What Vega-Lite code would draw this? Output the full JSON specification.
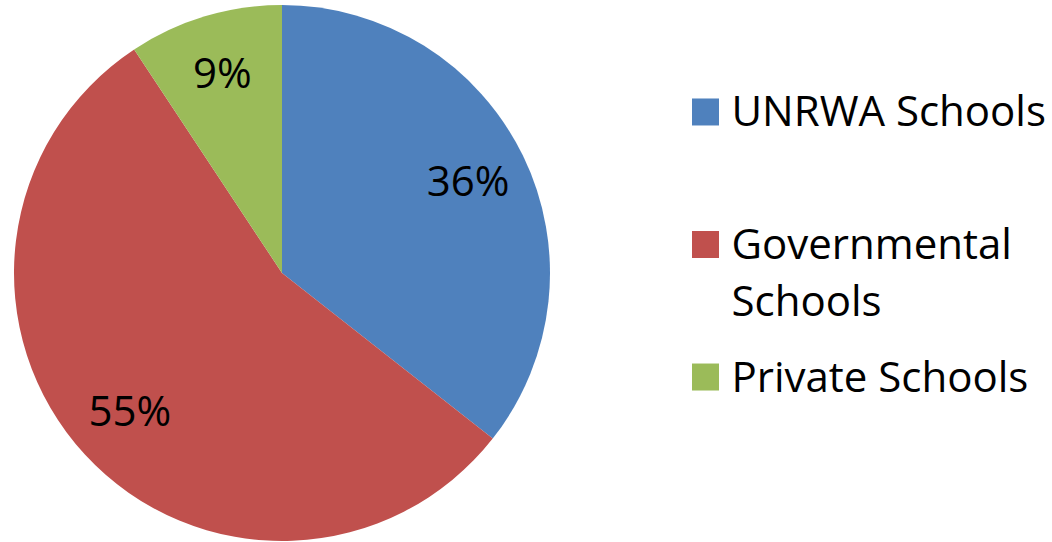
{
  "$schema": "https://vega.github.io/schema/vega-lite/v6.json",
  "padding": 0,
  "background": "white",
  "config": {"view": {"stroke": null}, "font": "Open Sans"},
  "data": {"values": [
    {"school": "UNRWA Schools", "legendLabel": "UNRWA Schools", "share": 0.356, "rank": 1},
    {"school": "Governmental Schools", "legendLabel": "Governmental\nSchools", "share": 0.551, "rank": 2},
    {"school": "Private Schools", "legendLabel": "Private Schools", "share": 0.093, "rank": 3}
  ]},
  "spacing": 128,
  "hconcat": [
    {
      "width": 564,
      "height": 546,
      "encoding": {
        "theta": {"field": "share", "type": "quantitative", "stack": true},
        "order": {"field": "rank", "type": "quantitative"}
      },
      "layer": [
        {
          "mark": {"type": "arc", "outerRadius": 268},
          "encoding": {
            "color": {"field": "school", "type": "nominal",
              "scale": {"domain": ["UNRWA Schools", "Governmental Schools", "Private Schools"], "range": ["#4F81BD", "#C0504D", "#9BBB59"]},
              "legend": null}
          }
        },
        {
          "mark": {"type": "text", "radius": 207, "fontSize": 42, "color": "black", "baseline": "middle", "align": "center"},
          "encoding": {
            "detail": {"field": "school", "type": "nominal"},
            "text": {"field": "share", "type": "quantitative", "format": ".0%"}
          }
        }
      ]
    },
    {
      "width": 27,
      "height": 489,
      "encoding": {
        "y": {"field": "school", "type": "nominal",
          "scale": {"type": "point", "domain": ["UNRWA Schools", "Governmental Schools", "Private Schools"], "padding": 0.845},
          "axis": null}
      },
      "layer": [
        {
          "mark": {"type": "square", "size": 729, "opacity": 1, "filled": true},
          "encoding": {
            "color": {"field": "school", "type": "nominal",
              "scale": {"domain": ["UNRWA Schools", "Governmental Schools", "Private Schools"], "range": ["#4F81BD", "#C0504D", "#9BBB59"]},
              "legend": null}
          }
        },
        {
          "mark": {"type": "text", "align": "left", "baseline": "alphabetic", "dx": 26, "dy": 14.5, "fontSize": 42, "lineHeight": 57, "lineBreak": "\n", "color": "black"},
          "encoding": {"text": {"field": "legendLabel", "type": "nominal"}}
        }
      ]
    }
  ]
}
